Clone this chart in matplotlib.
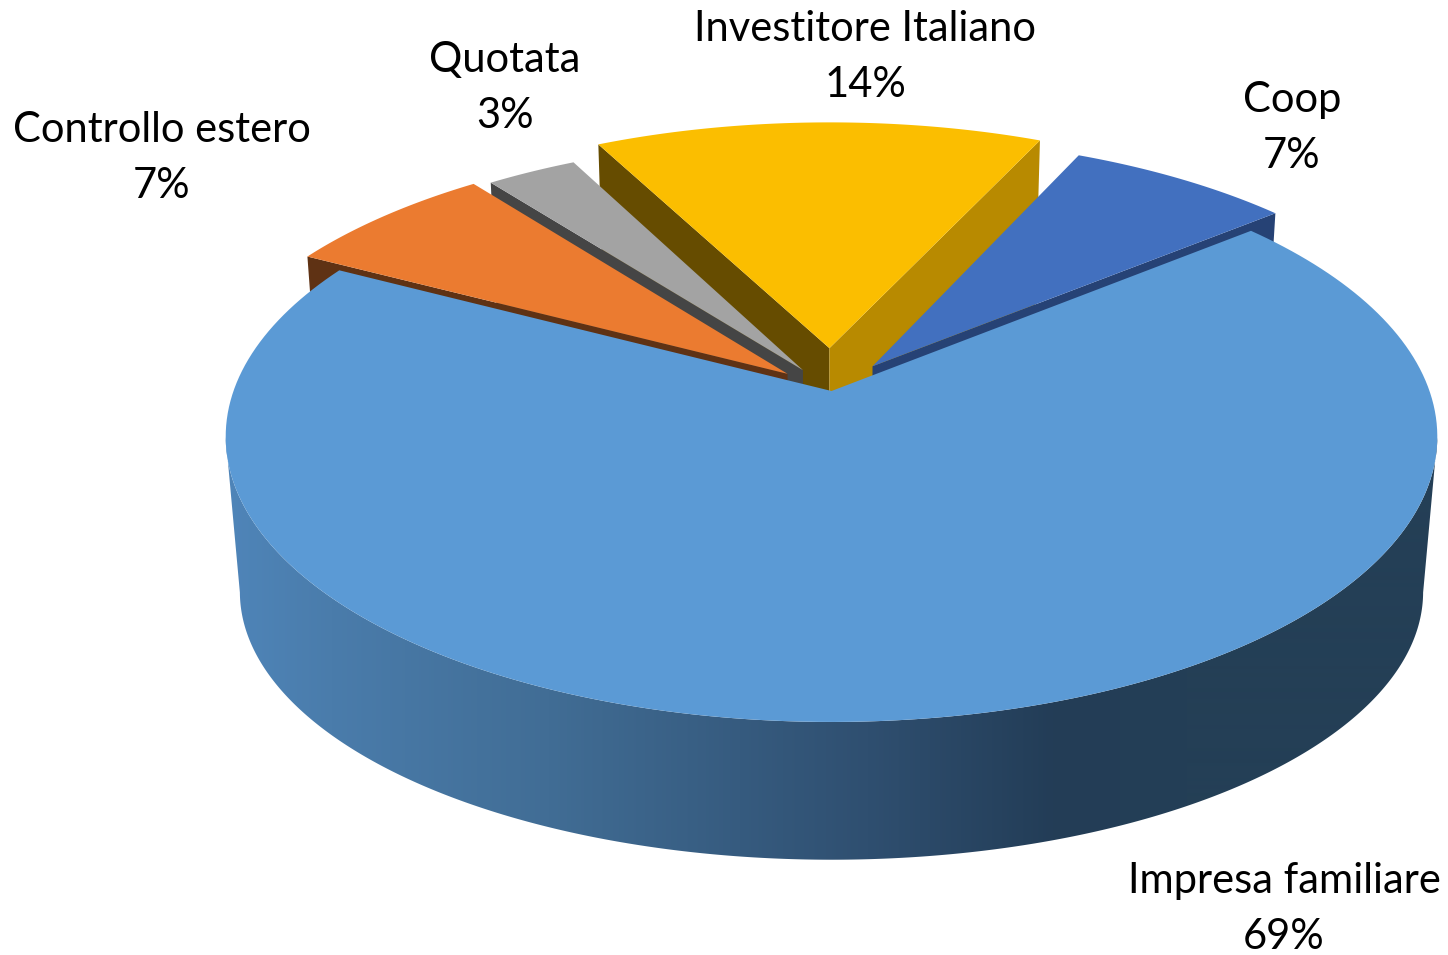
import numpy as np
import matplotlib
matplotlib.use('Agg')
import matplotlib.pyplot as plt
from matplotlib.colors import to_rgb

# clockwise, starting from the big slice
names = ['Impresa familiare', 'Controllo estero', 'Quotata', 'Investitore Italiano', 'Coop']
pct_labels = ['69%', '7%', '3%', '14%', '7%']
shares = [68.6, 6.8, 2.9, 14.4, 7.2]

top_colors = ['#5b9ad5', '#eb7b30', '#a3a3a3', '#fbbe00', '#4270bf']
explode = [0.0, 0.097, 0.09, 0.158, 0.114]
radius = [1.0, 0.99, 0.98, 0.985, 0.98]
# side faces that show: (edge index 0 = first edge clockwise, 1 = last edge), colour
faces = [[], [(0, '#5f3214')], [(0, '#454545')], [(0, '#664c00'), (1, '#b88a00')], [(1, '#264275')]]
label_xy = [(1284, 909), (162, 158), (505, 88), (865, 57), (1292, 128)]

wall_x = [226, 332, 549, 740, 868, 1053, 1187, 1440]
wall_colors = ['#4f85b9', '#4a7cab', '#416d95', '#365b7f', '#2f4f70', '#233d57', '#243f56', '#243f56']

START = 50.6
# projection of the pie disc: w = 1 + K*v, top face and bottom face
K = 0.16
CX = 831.5
A, B, Y0 = 598.0, 278.0, 391.0
Ab, Bb, Yb = 584.0, 261.0, 549.0


def project(u, v, z):
    w = 1 + K * v
    x = CX + (A + (Ab - A) * z) * u / w
    y = Y0 + (Yb - Y0) * z - (B + (Bb - B) * z) * v / w
    return np.column_stack([x, y])


def disc(th, i, ex, ey):
    t = np.radians(th)
    return ex + radius[i] * np.sin(t), ey + radius[i] * np.cos(t)


fig = plt.figure(figsize=(14.48, 9.55), dpi=100)
ax = fig.add_axes([0, 0, 1, 1])

edges = START + np.cumsum([0] + shares) * 360 / sum(shares)

# back slices first, big slice last
for i in [3, 2, 1, 4, 0]:
    t0, t1 = edges[i], edges[i + 1]
    mid = np.radians((t0 + t1) / 2)
    ex, ey = explode[i] * np.sin(mid), explode[i] * np.cos(mid)
    th = np.linspace(t0, t1, 200)
    u, v = disc(th, i, ex, ey)

    if i == 0:
        # outer wall between the left and right extremes, colour follows x
        tw = np.linspace(60, 300, 800)
        uw, vw = disc(tw, i, ex, ey)
        p0 = project(uw, vw, 0)
        p1 = project(uw, vw, 1)
        top_arc = p0[np.argmax(p0[:, 0]):np.argmin(p0[:, 0]) + 1]
        bottom_arc = p1[np.argmax(p1[:, 0]):np.argmin(p1[:, 0]) + 1]
        outline = np.vstack([top_arc, bottom_arc[::-1]])
        poly = ax.fill(outline[:, 0], outline[:, 1], color='none', lw=0)[0]
        rgb = np.array([to_rgb(c) for c in wall_colors])
        xs = np.arange(1448)
        grad = np.column_stack([np.interp(xs, wall_x, rgb[:, k]) for k in range(3)])[np.newaxis, :, :]
        im = ax.imshow(grad, extent=(0, 1448, 955, 0), aspect='auto', interpolation='bilinear')
        im.set_clip_path(poly)

    for edge, col in faces[i]:
        cu, cv = disc(np.array([t0 if edge == 0 else t1]), i, ex, ey)
        ue = np.array([ex, cu[0]])
        ve = np.array([ey, cv[0]])
        pts = np.vstack([project(ue, ve, 0), project(ue[::-1], ve[::-1], 1)])
        ax.fill(pts[:, 0], pts[:, 1], color=col, lw=0)

    pts = np.vstack([project(np.array([ex]), np.array([ey]), 0), project(u, v, 0)])
    ax.fill(pts[:, 0], pts[:, 1], color=top_colors[i], lw=0)

for name, pct, xy in zip(names, pct_labels, label_xy):
    ax.text(xy[0], xy[1], name + '\n' + pct, ha='center', va='center', family='Lato',
            fontsize=30, linespacing=1.6, color='black')

ax.set_xlim(0, 1448)
ax.set_ylim(955, 0)
ax.axis('off')

fig.savefig('out.png', dpi=100, facecolor='white')
